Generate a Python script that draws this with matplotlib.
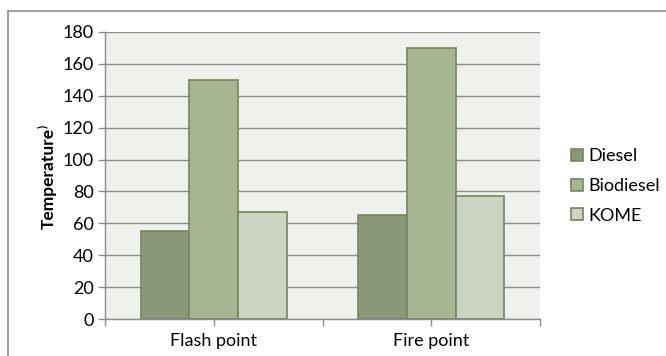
import numpy as np
import matplotlib.pyplot as plt
from matplotlib.lines import Line2D

# datos
categorias = ['Flash point', 'Fire point']
series = ['Diesel', 'Biodiesel', 'KOME']
diesel = [55, 65]
biodiesel = [150, 170]
kome = [67, 77]
colores = ['#8A9778', '#A8B592', '#CCD5C3']
borde = '#76845F'

plt.rcParams['font.family'] = ['Lato', 'DejaVu Sans']

fig = plt.figure(figsize=(6.66, 3.56), dpi=100)
ax = fig.add_axes([105/666, 1-319/356, 435/666, 287/356])
ax.set_facecolor('#EFF1EC')

x = np.arange(len(categorias)) + 0.5
ancho = 0.223
for k, (nombre, valores) in enumerate(zip(series, [diesel, biodiesel, kome])):
    ax.bar(x + (k-1)*ancho, valores, ancho, color=colores[k], edgecolor=borde,
           linewidth=1.2, label=nombre, zorder=3)

ax.set_xlim(0, 2)
ax.set_ylim(0, 180)
ax.set_yticks(range(0, 181, 20))
ax.yaxis.grid(True, color='#8C8C8C', linewidth=1.0, zorder=0)
ax.set_axisbelow(True)
ax.set_xticks([0, 0.5, 1, 1.5, 2])
ax.set_xticklabels(['', categorias[0], '', categorias[1], ''])
ax.tick_params(axis='x', length=5, color='#8C8C8C', width=1, labelsize=13, pad=5)
ax.tick_params(axis='y', length=5, color='#8C8C8C', width=1, labelsize=13, pad=3)
for s in ['top', 'right']:
    ax.spines[s].set_visible(False)
for s in ['left', 'bottom']:
    ax.spines[s].set_color('#8C8C8C')
    ax.spines[s].set_linewidth(1)

fig.text(49/666, 1-178/356, 'Temperature', rotation=90, ha='center', va='center',
         fontsize=12.5, fontweight='bold')
fig.text(42/666, 1-126/356, ')', rotation=90, ha='center', va='center', fontsize=8,
         fontweight='bold')

# marco exterior (solo arriba e izquierda visibles)
fig.add_artist(Line2D([8/666, 8/666], [0, 1-11/356], transform=fig.transFigure,
                      color='#8C8C8C', linewidth=1.2))
fig.add_artist(Line2D([8/666, 1], [1-11/356, 1-11/356], transform=fig.transFigure,
                      color='#8C8C8C', linewidth=1.2))

ax.legend(loc='center left', bbox_to_anchor=(571/666, 1-186/356),
          bbox_transform=fig.transFigure, frameon=False, fontsize=13,
          handlelength=0.65, handleheight=0.65, handletextpad=0.3, labelspacing=0.75,
          borderaxespad=0, borderpad=0)

fig.savefig('out.png', dpi=100)
